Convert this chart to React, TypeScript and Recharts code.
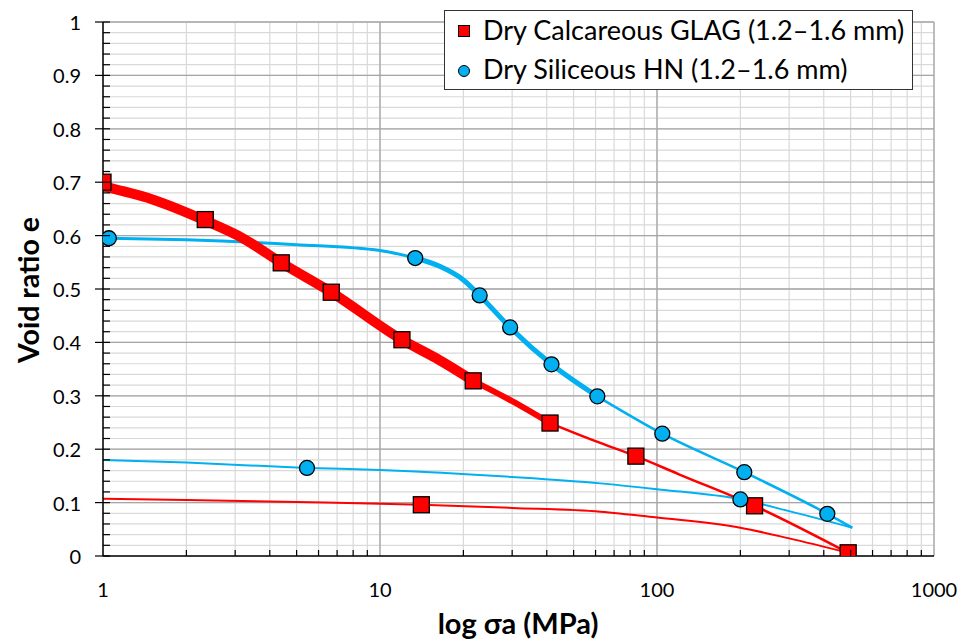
import React from 'react';
import { ComposedChart, Line, Scatter, XAxis, YAxis, CartesianGrid, ReferenceLine } from 'recharts';

// ---------- Data ----------
// Dry Calcareous GLAG (red) – loading curve (thick noisy band part)
const redBandAX = [1, 1.5, 2.34, 3.2, 4.4, 6.67, 12, 16, 21.7];
const redBandAY = [0.692, 0.668, 0.628, 0.595, 0.549, 0.494, 0.405, 0.37, 0.328];
const redBandBX = [21.7, 30, 41.1];
const redBandBY = [0.328, 0.29, 0.249];
const redLoadThinX = [41.1, 60, 83.9, 120, 225, 490];
const redLoadThinY = [0.249, 0.215, 0.187, 0.153, 0.094, 0.006];
// red unloading
const redUnloadX = [1, 2, 5, 10, 14.1, 30, 62.5, 100, 200, 300, 490];
const redUnloadY = [0.107, 0.105, 0.101, 0.098, 0.096, 0.09, 0.083, 0.072, 0.053, 0.033, 0.006];
// red markers
const redMarkX = [1, 2.34, 4.4, 6.67, 12.0, 21.7, 41.1, 83.9, 225, 490, 14.1];
const redMarkY = [0.7, 0.63, 0.549, 0.494, 0.405, 0.328, 0.249, 0.187, 0.094, 0.006, 0.096];

// Dry Siliceous HN (blue) – loading
const blueLoadAX = [1.05, 2, 5, 10, 13.4];
const blueLoadAY = [0.595, 0.592, 0.583, 0.572, 0.558];
const blueLoadBX = [13.4, 16.5, 20, 22.9, 29.5, 41.6, 60.9];
const blueLoadBY = [0.558, 0.542, 0.517, 0.488, 0.428, 0.359, 0.299];
const blueLoadCX = [60.9, 104.5, 206.6, 412, 507];
const blueLoadCY = [0.299, 0.229, 0.157, 0.079, 0.053];
// blue unloading
const blueUnloadX = [1, 2, 5.45, 10, 30, 62.5, 100, 200, 300, 507];
const blueUnloadY = [0.18, 0.175, 0.165, 0.161, 0.148, 0.136, 0.125, 0.106, 0.084, 0.053];
// blue markers
const blueMarkX = [1.05, 13.4, 22.9, 29.5, 41.6, 60.9, 104.5, 206.6, 412, 200, 5.45];
const blueMarkY = [0.595, 0.558, 0.488, 0.428, 0.359, 0.299, 0.229, 0.157, 0.079, 0.106, 0.165];

// Axis ticks
const xTicks = [1, 2, 3, 4, 5, 6, 7, 8, 9, 10, 20, 30, 40, 50, 60, 70, 80, 90, 100, 200, 300, 400, 500, 600, 700, 800, 900, 1000];
const xMajor = [1, 10, 100, 1000];
const yTicks = [0, 0.02, 0.04, 0.06, 0.08, 0.1, 0.12, 0.14, 0.16, 0.18, 0.2, 0.22, 0.24, 0.26, 0.28, 0.3, 0.32, 0.34, 0.36, 0.38, 0.4, 0.42, 0.44, 0.46, 0.48, 0.5, 0.52, 0.54, 0.56, 0.58, 0.6, 0.62, 0.64, 0.66, 0.68, 0.7, 0.72, 0.74, 0.76, 0.78, 0.8, 0.82, 0.84, 0.86, 0.88, 0.9, 0.92, 0.94, 0.96, 0.98, 1];
const yMajor = [0, 0.1, 0.2, 0.3, 0.4, 0.5, 0.6, 0.7, 0.8, 0.9, 1];
const yMajorLabels = ['0', '0.1', '0.2', '0.3', '0.4', '0.5', '0.6', '0.7', '0.8', '0.9', '1'];

const zip = (xs: number[], ys: number[]) => xs.map((x, i) => ({ x, y: ys[i] }));

const RED = '#ff0000';
const BLUE = '#00b0f0';
const FONT = 'Lato, "Open Sans", sans-serif';

const YTick = (props: any) => {
  const { x, y, payload } = props;
  const v = payload.value;
  const idx = yMajor.findIndex((m) => Math.abs(m - v) < 1e-6);
  if (idx >= 0) {
    return (
      <g>
        <line x1={x - 8} x2={x + 7} y1={y} y2={y} stroke="#000" strokeWidth={1.2} />
        <text x={x - 22} y={y} textAnchor="end" dominantBaseline="central" fontSize={20} fontFamily={FONT} fill="#000">
          {yMajorLabels[idx]}
        </text>
      </g>
    );
  }
  return <line x1={x} x2={x + 7} y1={y} y2={y} stroke="#000" strokeWidth={1.2} />;
};

const XTick = (props: any) => {
  const { x, y, payload } = props;
  const v = payload.value;
  if (xMajor.includes(v)) {
    return (
      <text x={x} y={y + 41} textAnchor="middle" fontSize={20} fontFamily={FONT} fill="#000">
        {String(v)}
      </text>
    );
  }
  return <line x1={x} x2={x} y1={y} y2={y - 6} stroke="#000" strokeWidth={1.2} />;
};

const SquareShape = (props: any) => {
  const { cx, cy } = props;
  if (cx == null || cy == null) return null;
  return <rect x={cx - 8} y={cy - 8} width={16} height={16} fill={RED} stroke="#000" strokeWidth={1.3} />;
};
const CircleShape = (props: any) => {
  const { cx, cy } = props;
  if (cx == null || cy == null) return null;
  return <circle cx={cx} cy={cy} r={7.5} fill={BLUE} stroke="#000" strokeWidth={1.3} />;
};

export default function App() {
  return (
    <div style={{ position: 'absolute', left: 0, top: 0, width: 965, height: 639, background: '#fff', fontFamily: FONT }}>
      <ComposedChart width={965} height={639} margin={{ top: 22, right: 31, bottom: 43, left: 43 }}>
        <CartesianGrid stroke="#d9d9d9" strokeWidth={1.2} />
        {yMajor.slice(1).map((v) => (
          <ReferenceLine key={'ym' + v} y={v} stroke="#a6a6a6" strokeWidth={1.3} />
        ))}
        {xMajor.slice(1).map((v) => (
          <ReferenceLine key={'xm' + v} x={v} stroke="#a6a6a6" strokeWidth={1.3} />
        ))}
        <XAxis
          dataKey="x"
          type="number"
          scale="log"
          domain={[1, 1000]}
          ticks={xTicks}
          interval={0}
          allowDataOverflow
          height={40}
          tickSize={0}
          tickMargin={0}
          tickLine={false}
          tick={<XTick />}
          axisLine={{ stroke: '#000', strokeWidth: 1.5 }}
        />
        <YAxis
          dataKey="y"
          type="number"
          domain={[0, 1]}
          ticks={yTicks}
          interval={0}
          allowDataOverflow
          width={60}
          tickSize={0}
          tickMargin={0}
          tickLine={false}
          tick={<YTick />}
          axisLine={{ stroke: '#000', strokeWidth: 1.5 }}
        />
        {/* blue curves */}
        <Line data={zip(blueUnloadX, blueUnloadY)} dataKey="y" type="monotone" stroke={BLUE} strokeWidth={2} dot={false} isAnimationActive={false} />
        <Line data={zip(blueLoadAX, blueLoadAY)} dataKey="y" type="monotone" stroke={BLUE} strokeWidth={3} dot={false} isAnimationActive={false} />
        <Line data={zip(blueLoadBX, blueLoadBY)} dataKey="y" type="monotone" stroke={BLUE} strokeWidth={5} dot={false} isAnimationActive={false} />
        <Line data={zip(blueLoadCX, blueLoadCY)} dataKey="y" type="monotone" stroke={BLUE} strokeWidth={2.5} dot={false} isAnimationActive={false} />
        {/* red curves */}
        <Line data={zip(redUnloadX, redUnloadY)} dataKey="y" type="monotone" stroke={RED} strokeWidth={2} dot={false} isAnimationActive={false} />
        <Line data={zip(redLoadThinX, redLoadThinY)} dataKey="y" type="monotone" stroke={RED} strokeWidth={2.5} dot={false} isAnimationActive={false} />
        <Line data={zip(redBandBX, redBandBY)} dataKey="y" type="monotone" stroke={RED} strokeWidth={6} dot={false} isAnimationActive={false} />
        <Line data={zip(redBandAX, redBandAY)} dataKey="y" type="monotone" stroke={RED} strokeWidth={10} dot={false} isAnimationActive={false} />
        {/* markers */}
        <Scatter data={zip(redMarkX, redMarkY)} shape={<SquareShape />} isAnimationActive={false} />
        <Scatter data={zip(blueMarkX, blueMarkY)} shape={<CircleShape />} isAnimationActive={false} />
      </ComposedChart>

      {/* Legend */}
      <div
        style={{
          position: 'absolute',
          left: 444,
          top: 10,
          width: 469,
          height: 80,
          border: '1.5px solid #333',
          background: '#fff',
          boxSizing: 'border-box',
        }}
      >
        <div style={{ position: 'absolute', left: 13, top: 14, width: 12, height: 12, background: RED, border: '1px solid #000', boxSizing: 'border-box' }} />
        <div style={{ position: 'absolute', left: 38, top: 1, fontSize: 27, lineHeight: '36px', whiteSpace: 'nowrap', color: '#000' }}>
          Dry Calcareous GLAG (1.2–1.6 mm)
        </div>
        <div style={{ position: 'absolute', left: 13, top: 54, width: 12, height: 12, borderRadius: '50%', background: BLUE, border: '1px solid #000', boxSizing: 'border-box' }} />
        <div style={{ position: 'absolute', left: 38, top: 40, fontSize: 27, lineHeight: '36px', whiteSpace: 'nowrap', color: '#000' }}>
          Dry Siliceous HN (1.2–1.6 mm)
        </div>
      </div>

      {/* Axis titles */}
      <div
        style={{
          position: 'absolute',
          left: 28,
          top: 290,
          transform: 'translate(-50%, -50%) rotate(-90deg)',
          fontSize: 28.5,
          fontWeight: 700,
          whiteSpace: 'nowrap',
          color: '#000',
        }}
      >
        Void ratio e
      </div>
      <div
        style={{
          position: 'absolute',
          left: 518,
          top: 622,
          transform: 'translate(-50%, -50%)',
          fontSize: 29,
          fontWeight: 700,
          whiteSpace: 'nowrap',
          color: '#000',
        }}
      >
        log σa (MPa)
      </div>
    </div>
  );
}
